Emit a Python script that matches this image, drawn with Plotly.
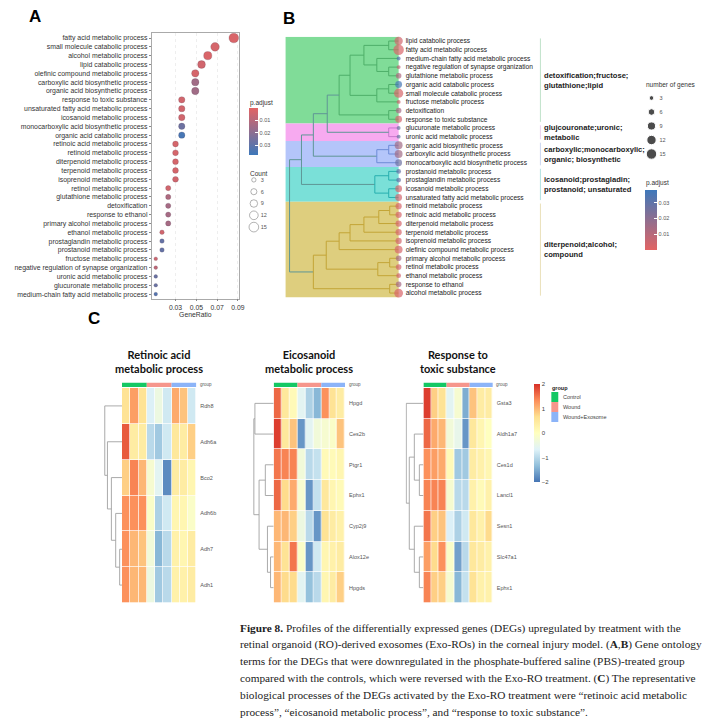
import plotly.graph_objects as go

W, H = 716, 727

# ---------------- Panel A data ----------------
a_terms = [
    "fatty acid metabolic process", "small molecule catabolic process", "alcohol metabolic process",
    "lipid catabolic process", "olefinic compound metabolic process", "carboxylic acid biosynthetic process",
    "organic acid biosynthetic process", "response to toxic substance", "unsaturated fatty acid metabolic process",
    "icosanoid metabolic process", "monocarboxylic acid biosynthetic process", "organic acid catabolic process",
    "retinoic acid metabolic process", "retinoid metabolic process", "diterpenoid metabolic process",
    "terpenoid metabolic process", "isoprenoid metabolic process", "retinol metabolic process",
    "glutathione metabolic process", "detoxification", "response to ethanol",
    "primary alcohol metabolic process", "ethanol metabolic process", "prostaglandin metabolic process",
    "prostanoid metabolic process", "fructose metabolic process", "negative regulation of synapse organization",
    "uronic acid metabolic process", "glucuronate metabolic process", "medium-chain fatty acid metabolic process"]
a_gene_ratio = [0.086, 0.068, 0.061, 0.055, 0.049, 0.049, 0.049, 0.036, 0.036, 0.036, 0.036, 0.036,
                0.030, 0.030, 0.030, 0.030, 0.030, 0.023, 0.023, 0.023, 0.023, 0.023,
                0.017, 0.017, 0.017, 0.011, 0.011, 0.011, 0.011, 0.011]
a_count = [14, 11, 10, 9, 8, 8, 8, 6, 6, 6, 6, 6, 5, 5, 5, 5, 5, 4, 4, 4, 4, 4, 3, 3, 3, 2, 2, 2, 2, 2]
a_padj = [0.002, 0.003, 0.002, 0.004, 0.003, 0.015, 0.015, 0.004, 0.004, 0.004, 0.027, 0.036,
          0.003, 0.003, 0.003, 0.003, 0.004, 0.004, 0.012, 0.014, 0.014, 0.014, 0.004, 0.029, 0.029,
          0.005, 0.008, 0.028, 0.028, 0.033]
a_xticks = [0.03, 0.05, 0.07, 0.09]
count_legend = [3, 6, 9, 12, 15]
padj_ticks = [0.01, 0.02, 0.03]

# ---------------- Panel B data ----------------
b_terms = [
    "lipid catabolic process", "fatty acid metabolic process", "medium-chain fatty acid metabolic process",
    "negative regulation of synapse organization", "glutathione metabolic process", "organic acid catabolic process",
    "small molecule catabolic process", "fructose metabolic process", "detoxification",
    "response to toxic substance", "glucuronate metabolic process", "uronic acid metabolic process",
    "organic acid biosynthetic process", "carboxylic acid biosynthetic process",
    "monocarboxylic acid biosynthetic process", "prostanoid metabolic process", "prostaglandin metabolic process",
    "icosanoid metabolic process", "unsaturated fatty acid metabolic process", "retinoid metabolic process",
    "retinoic acid metabolic process", "diterpenoid metabolic process", "terpenoid metabolic process",
    "isoprenoid metabolic process", "olefinic compound metabolic process", "primary alcohol metabolic process",
    "retinol metabolic process", "ethanol metabolic process", "response to ethanol", "alcohol metabolic process"]
b_cluster_sizes = [10, 2, 3, 4, 11]
b_cluster_labels = ["detoxification;fructose;<br>glutathione;lipid",
                    "glujcouronate;uronic;<br>metabolic",
                    "carboxylic;monocarboxylic;<br>organic; biosynthetic",
                    "icosanoid;prostagladin;<br>prostanoid; unsaturated",
                    "diterpenoid;alcohol;<br>compound"]
b_band_colors = ["rgb(128,220,152)", "rgb(247,170,240)", "rgb(180,197,250)", "rgb(122,224,216)", "rgb(222,206,126)"]
b_line_colors = ["rgb(78,175,105)", "rgb(200,120,205)", "rgb(110,140,215)", "rgb(40,175,175)", "rgb(195,165,55)"]
# linkage: (left node, right node, merge height); new nodes numbered from 30
b_links = [(0, 1, 0.10), (3, 4, 0.10), (2, 31, 0.22), (30, 32, 0.35), (5, 6, 0.10), (34, 7, 0.22),
           (33, 35, 0.49), (8, 9, 0.10), (36, 37, 0.60), (10, 11, 0.10), (38, 39, 0.72),
           (12, 13, 0.10), (41, 14, 0.22), (40, 42, 0.86), (15, 16, 0.10), (17, 18, 0.10),
           (44, 45, 0.24), (43, 46, 0.98), (19, 20, 0.09), (48, 21, 0.20), (49, 22, 0.35),
           (50, 23, 0.49), (51, 24, 0.60), (25, 26, 0.09), (53, 27, 0.21), (52, 54, 0.73),
           (28, 29, 0.09), (55, 56, 0.86), (47, 57, 1.10)]
term_count = dict(zip(a_terms, a_count))
term_padj = dict(zip(a_terms, a_padj))

# ---------------- Panel C data ----------------
groups = ["Control"] * 3 + ["Wound"] * 3 + ["Wound+Exosome"] * 3
group_colors = {"Control": "rgb(20,200,100)", "Wound": "rgb(246,150,140)", "Wound+Exosome": "rgb(140,180,248)"}

h1_title = "Retinoic acid<br>metabolic process"
h1_genes = ["Rdh8", "Adh6a", "Bco2", "Adh6b", "Adh7", "Adh1"]
h1_values = [
    [0.6, 1.2, 0.6, -0.7, -0.4, -0.8, 1.1, 0.9, -0.8],
    [1.7, 0.4, 0.4, -1.0, -1.2, -0.8, 0.5, 0.4, 0.8],
    [0.8, 1.4, 1.0, -0.2, -0.6, -1.8, 0.4, 0.4, 0.2],
    [1.3, 1.3, 1.3, -0.1, -1.1, -0.8, 0.2, 0.2, -0.1],
    [1.3, 1.0, 0.9, -0.3, -1.4, -1.0, 0.3, 0.2, 0.4],
    [1.3, 1.0, 1.0, -0.4, -1.2, -1.0, 0.3, 0.3, 0.4]]
h1_links = [(4, 5, 0.7), (3, 6, 1.9), (2, 7, 3.2), (1, 8, 4.4), (0, 9, 5.2)]

h2_title = "Eicosanoid<br>metabolic process"
h2_genes = ["Hpgd", "Ces2b", "Ptgr1", "Ephx1", "Cyp2j9", "Alox12e", "Hpgds"]
h2_values = [
    [1.6, 0.5, 0.1, -0.6, -1.1, -1.4, 1.3, 0.6, 0.4],
    [1.9, 0.5, 0.9, -1.7, -0.6, -0.3, -0.2, -0.1, 0.9],
    [1.5, 1.4, 1.4, -0.3, -1.0, -0.9, 0.1, 0.1, 0.2],
    [1.6, 0.7, 1.1, -0.2, -1.7, -0.9, 0.5, 0.2, 0.1],
    [1.0, 1.0, 0.8, -0.4, -1.0, -1.7, 0.6, 0.4, 0.3],
    [1.0, 0.6, 1.5, -0.1, -1.7, -0.8, 0.2, 0.3, 0.4],
    [1.0, 0.7, 0.7, -0.6, -1.3, -1.0, 0.2, 0.4, 0.8]]
h2_links = [(0, 1, 5.14), (2, 3, 2.29), (5, 6, 0.86), (4, 9, 1.71), (8, 10, 4.0), (7, 11, 5.43)]

h3_title = "Response to<br>toxic substance"
h3_genes = ["Gsta3", "Aldh1a7", "Ces1d", "Lancl1", "Sesn1", "Slc47a1", "Ephx1"]
h3_values = [
    [1.9, 0.8, 0.6, -0.6, -0.2, -1.5, 0.9, 0.4, 0.4],
    [1.6, 1.1, 1.0, -0.3, -0.5, -1.7, 0.5, 0.2, 0.0],
    [1.3, 1.2, 1.1, 0.1, -1.2, -1.2, 0.4, 0.3, 0.2],
    [1.4, 1.4, 1.4, -0.2, -1.0, -1.0, 0.3, 0.1, 0.3],
    [1.5, 0.8, 0.9, -0.7, -1.1, -0.8, 0.5, 0.3, 0.7],
    [1.2, 0.7, 1.3, -0.1, -1.6, -1.0, 0.5, 0.4, 0.3],
    [1.4, 0.8, 0.8, -0.2, -1.4, -0.9, 0.6, 0.3, 0.3]]
h3_links = [(2, 3, 1.18), (1, 7, 2.65), (5, 6, 1.18), (4, 9, 2.65), (8, 10, 4.12), (0, 11, 5.0)]
heat_ticks = [-2, -1, 0, 1, 2]

caption_lines = [
    "<b>Figure 8.</b> Profiles of the differentially expressed genes (DEGs) upregulated by treatment with the",
    "retinal organoid (RO)-derived exosomes (Exo-ROs) in the corneal injury model. (<b>A</b>,<b>B</b>) Gene ontology",
    "terms for the DEGs that were downregulated in the phosphate-buffered saline (PBS)-treated group",
    "compared with the controls, which were reversed with the Exo-RO treatment. (<b>C</b>) The representative",
    "biological processes of the DEGs activated by the Exo-RO treatment were \u201cretinoic acid metabolic",
    "process\u201d, \u201ceicosanoid metabolic process\u201d, and \u201cresponse to toxic substance\u201d."]


# ---------------- helpers ----------------
def dx(a, b):
    return [a / W, b / W]


def dy(top, bottom):
    return [1 - bottom / H, 1 - top / H]


def px(x):
    return x / W


def py(y):
    return 1 - y / H


def dendro(links, n):
    pos = [float(i) for i in range(n)]
    hgt = [0.0] * n
    mem = [{i} for i in range(n)]
    out = []
    for a, b, h in links:
        out.append(([hgt[a], h, h, hgt[b]], [pos[a], pos[a], pos[b], pos[b]], mem[a] | mem[b]))
        pos.append((pos[a] + pos[b]) / 2)
        hgt.append(h)
        mem.append(mem[a] | mem[b])
    return out, hgt[:n]


SANS = "Liberation Sans, Arial, sans-serif"
TXT = "#333333"
RED = "rgb(226,100,100)"
BLUE = "rgb(62,120,186)"

fig = go.Figure()
annotations = []
shapes = []

# ---------------- Panel A ----------------
fig.add_trace(go.Scatter(
    x=a_gene_ratio, y=list(range(len(a_terms))), mode="markers", cliponaxis=False,
    marker=dict(size=[2.6 * c ** 0.5 for c in a_count], color=[-p for p in a_padj],
                coloraxis="coloraxis", line=dict(width=0.4, color="rgba(80,60,80,0.5)"), opacity=1),
    xaxis="x", yaxis="y", showlegend=False, hoverinfo="skip"))

# count legend A
fig.add_trace(go.Scatter(
    x=[0] * len(count_legend), y=list(range(len(count_legend))), mode="markers", cliponaxis=False,
    marker=dict(size=[2.5 * c ** 0.5 for c in count_legend], symbol="circle-open", color="#777",
                line=dict(width=0.8)),
    xaxis="x3", yaxis="y3", showlegend=False, hoverinfo="skip"))
annotations.append(dict(text="Count", x=px(250), y=py(173), xref="paper", yref="paper", xanchor="left",
                        yanchor="middle", showarrow=False, font=dict(size=6.5, color=TXT, family=SANS)))
annotations.append(dict(text="p.adjust", x=px(250), y=py(103), xref="paper", yref="paper", xanchor="left",
                        yanchor="middle", showarrow=False, font=dict(size=6.5, color=TXT, family=SANS)))

# ---------------- Panel B ----------------
row_cluster = []
for ci, s in enumerate(b_cluster_sizes):
    row_cluster += [ci] * s
starts = []
acc = 0
for s in b_cluster_sizes:
    starts.append(acc)
    acc += s

for ci, s in enumerate(b_cluster_sizes):
    shapes.append(dict(type="rect", xref="x2 domain", yref="y2", x0=0, x1=1,
                       y0=starts[ci] - 0.5, y1=starts[ci] + s - 0.5,
                       fillcolor=b_band_colors[ci], line=dict(width=0), layer="below"))
    shapes.append(dict(type="line", xref="paper", yref="y2", x0=px(545), x1=px(545),
                       y0=starts[ci] - 0.3, y1=starts[ci] + s - 0.7,
                       line=dict(width=1, color=b_line_colors[ci]), opacity=0.35))
    annotations.append(dict(text="<b>" + b_cluster_labels[ci] + "</b>", x=px(547), xref="paper",
                            y=starts[ci] + (s - 1) / 2, yref="y2", xanchor="left", yanchor="middle",
                            align="left", showarrow=False,
                            font=dict(size=7.6, color="#222", family=SANS)))

b_segs, b_leaf_h = dendro(b_links, len(b_terms))
by_color = {}
for xs, ys, mem in b_segs:
    cl = {row_cluster[i] for i in mem}
    col = b_line_colors[cl.pop()] if len(cl) == 1 else "rgb(95,150,150)"
    bx, byy = by_color.setdefault(col, ([], []))
    bx += xs + [None]
    byy += ys + [None]
for col, (bx, byy) in by_color.items():
    fig.add_trace(go.Scatter(x=bx, y=byy, mode="lines", line=dict(color=col, width=1),
                             xaxis="x2", yaxis="y2", showlegend=False, hoverinfo="skip"))

fig.add_trace(go.Scatter(
    x=b_leaf_h, y=list(range(len(b_terms))), mode="markers", cliponaxis=False,
    marker=dict(size=[2.8 * term_count[t] ** 0.5 for t in b_terms],
                color=[term_padj[t] for t in b_terms], coloraxis="coloraxis2", line=dict(width=0)),
    xaxis="x2", yaxis="y2", showlegend=False, hoverinfo="skip"))

# number of genes legend
fig.add_trace(go.Scatter(
    x=[0] * len(count_legend), y=list(range(len(count_legend))), mode="markers", cliponaxis=False,
    marker=dict(size=[2.7 * c ** 0.5 for c in count_legend], color="black"),
    xaxis="x4", yaxis="y4", showlegend=False, hoverinfo="skip"))
annotations.append(dict(text="number of genes", x=px(649), y=py(85), xref="paper", yref="paper",
                        xanchor="left", yanchor="middle", showarrow=False,
                        font=dict(size=6.5, color=TXT, family=SANS)))
annotations.append(dict(text="p.adjust", x=px(649), y=py(183), xref="paper", yref="paper",
                        xanchor="left", yanchor="middle", showarrow=False,
                        font=dict(size=6.5, color=TXT, family=SANS)))

# ---------------- Panel C ----------------
heat_specs = [
    (h1_title, h1_genes, h1_values, h1_links, (123, 198), (105, 123), 5.4, 5, 8),
    (h2_title, h2_genes, h2_values, h2_links, (276, 348), (255, 276), 5.7, 6, 9),
    (h3_title, h3_genes, h3_values, h3_links, (427, 497), (409, 427), 5.2, 7, 10),
]
layout_axes = {}
for title, genes, vals, links, (hx0, hx1), (dx0, dx1), dmax, ax, dax in heat_specs:
    n = len(genes)
    fig.add_trace(go.Heatmap(z=vals, x=list(range(len(groups))), y=list(range(n)),
                             coloraxis="coloraxis3", xgap=0.7, ygap=0.7,
                             xaxis=f"x{ax}", yaxis=f"y{ax}", hoverinfo="skip"))
    segs, _ = dendro(links, n)
    lx, ly = [], []
    for xs, ys, _m in segs:
        lx += xs + [None]
        ly += ys + [None]
    fig.add_trace(go.Scatter(x=lx, y=ly, mode="lines", line=dict(color="#a0a0a0", width=0.9),
                             xaxis=f"x{dax}", yaxis=f"y{dax}", showlegend=False, hoverinfo="skip"))
    layout_axes[f"xaxis{ax}"] = dict(domain=dx(hx0, hx1), range=[-0.5, len(groups) - 0.5], visible=False,
                                     anchor=f"y{ax}")
    layout_axes[f"yaxis{ax}"] = dict(domain=dy(388, 603), range=[n - 0.5, -0.5], anchor=f"x{ax}",
                                     side="right", tickvals=list(range(n)), ticktext=genes, ticks="",
                                     showgrid=False, zeroline=False, showline=False, ticklabelstandoff=3,
                                     tickfont=dict(size=5.5, color="#555", family=SANS))
    layout_axes[f"xaxis{dax}"] = dict(domain=dx(dx0, dx1), range=[dmax, 0], visible=False, anchor=f"y{dax}")
    layout_axes[f"yaxis{dax}"] = dict(domain=dy(388, 603), range=[n - 0.5, -0.5], visible=False,
                                      anchor=f"x{dax}")
    # group bar
    for g in dict.fromkeys(groups):
        idx = [i for i, gg in enumerate(groups) if gg == g]
        shapes.append(dict(type="rect", xref=f"x{ax}", yref=f"y{ax} domain", x0=min(idx) - 0.5,
                           x1=max(idx) + 0.5, y0=1.005, y1=1.024, fillcolor=group_colors[g],
                           line=dict(width=0)))
    annotations.append(dict(text="group", xref=f"x{ax} domain", x=1.02, yref=f"y{ax} domain", y=1.015,
                            xanchor="left", yanchor="middle", showarrow=False,
                            font=dict(size=4.5, color="#555", family=SANS)))
    annotations.append(dict(text="<b>" + title + "</b>", xref="paper", x=px((hx0 + hx1) / 2),
                            yref="paper", y=py(361), xanchor="center", yanchor="middle", showarrow=False,
                            font=dict(size=11, color="#111", family="Lato, Liberation Sans")))

# group legend
annotations.append(dict(text="<b>group</b>", x=px(555), y=py(388), xref="paper", yref="paper",
                        xanchor="left", yanchor="middle", showarrow=False,
                        font=dict(size=5.5, color="#222", family=SANS)))
for k, g in enumerate(dict.fromkeys(groups)):
    top = 392 + 10 * k
    shapes.append(dict(type="rect", xref="paper", yref="paper", x0=px(556), x1=px(563),
                       y0=py(top + 10), y1=py(top), fillcolor=group_colors[g], line=dict(width=0)))
    annotations.append(dict(text=g, x=px(566), y=py(top + 5), xref="paper", yref="paper",
                            xanchor="left", yanchor="middle", showarrow=False,
                            font=dict(size=5.5, color="#444", family=SANS)))

# panel letters
for letter, (lx_, ly_) in {"A": (35, 16), "B": (291, 18), "C": (95, 318)}.items():
    annotations.append(dict(text="<b>" + letter + "</b>", x=px(lx_), y=py(ly_), xref="paper", yref="paper",
                            xanchor="center", yanchor="middle", showarrow=False,
                            font=dict(size=17, color="black", family=SANS)))

# caption
for i, line in enumerate(caption_lines):
    annotations.append(dict(text=line, x=px(240), y=py(628 + 16.8 * i), xref="paper", yref="paper",
                            xanchor="left", yanchor="middle", showarrow=False,
                            font=dict(size=11.3, color="#222", family="Liberation Serif, DejaVu Serif, serif")))

heat_colors = ["#4575B4", "#91BFDB", "#E0F3F8", "#FFFFBF", "#FEE090", "#FC8D59", "#D73027"]

fig.update_layout(
    width=W, height=H, margin=dict(l=0, r=0, t=0, b=0),
    paper_bgcolor="white", plot_bgcolor="white", showlegend=False,
    font=dict(family=SANS, color=TXT),
    xaxis=dict(domain=dx(153, 241), range=[0.00714, 0.091], tickvals=a_xticks,
               ticktext=[f"{v:.2f}" for v in a_xticks], ticks="outside", ticklen=2, tickcolor="#888",
               tickfont=dict(size=6.8, color=TXT, family=SANS), showline=True, mirror=True,
               linecolor="#aaaaaa", linewidth=0.8, showgrid=True, gridcolor="#eeeeee", griddash="dot",
               zeroline=False, anchor="y",
               title=dict(text="GeneRatio", font=dict(size=6.8, color=TXT, family=SANS), standoff=2)),
    yaxis=dict(domain=dy(32.7, 298.5), range=[29.5, -0.6], tickvals=list(range(len(a_terms))),
               ticktext=a_terms, ticks="outside", ticklen=2, tickcolor="#888",
               tickfont=dict(size=6.9, color=TXT, family=SANS), showline=True, mirror=True,
               linecolor="#aaaaaa", linewidth=0.8, showgrid=False, zeroline=False, anchor="x"),
    xaxis2=dict(domain=dx(288, 402), range=[1.14, 0], visible=False, anchor="y2"),
    yaxis2=dict(domain=dy(36.7, 297.4), range=[29.5, -0.5], anchor="x2", side="right",
                tickvals=list(range(len(b_terms))), ticktext=b_terms, ticks="", ticklabelstandoff=6,
                tickfont=dict(size=6.6, color="#222", family=SANS), showgrid=False, zeroline=False,
                showline=False),
    xaxis3=dict(domain=dx(252, 260), range=[-1, 1], visible=False, anchor="y3"),
    yaxis3=dict(domain=dy(174, 233), range=[4.5, -0.5], anchor="x3", side="right",
                tickvals=list(range(len(count_legend))), ticktext=[str(c) for c in count_legend],
                ticks="", ticklabelstandoff=2, showgrid=False, zeroline=False, showline=False,
                tickfont=dict(size=5.5, color="#555", family=SANS)),
    xaxis4=dict(domain=dx(652, 662), range=[-1, 1], visible=False, anchor="y4"),
    yaxis4=dict(domain=dy(91, 161), range=[4.5, -0.5], anchor="x4", side="right",
                tickvals=list(range(len(count_legend))), ticktext=[str(c) for c in count_legend],
                ticks="", ticklabelstandoff=2, showgrid=False, zeroline=False, showline=False,
                tickfont=dict(size=5.5, color="#555", family=SANS)),
    coloraxis=dict(colorscale=[[0, BLUE], [1, RED]], cmin=-0.038, cmax=0,
                   colorbar=dict(x=px(251), xanchor="left", y=py(108), yanchor="top", len=47,
                                 lenmode="pixels", thickness=9, outlinewidth=0, xpad=0, ypad=0,
                                 tickvals=[-v for v in padj_ticks], ticktext=[f"{v:.2f}" for v in padj_ticks],
                                 ticks="inside", ticklen=3, tickcolor="white",
                                 tickfont=dict(size=5.5, color="#555", family=SANS))),
    coloraxis2=dict(colorscale=[[0, RED], [1, BLUE]], cmin=0, cmax=0.038,
                    colorbar=dict(x=px(650), xanchor="left", y=py(190), yanchor="top", len=60,
                                  lenmode="pixels", thickness=12, outlinewidth=0, xpad=0, ypad=0,
                                  tickvals=padj_ticks, ticktext=[f"{v:.2f}" for v in padj_ticks],
                                  ticks="inside", ticklen=3, tickcolor="white",
                                  tickfont=dict(size=5.5, color="#555", family=SANS))),
    coloraxis3=dict(colorscale=[[i / 6, c] for i, c in enumerate(heat_colors)], cmin=-2, cmax=2,
                    colorbar=dict(x=px(539), xanchor="left", y=py(384), yanchor="top", len=98,
                                  lenmode="pixels", thickness=6, outlinewidth=0, xpad=0, ypad=0,
                                  tickvals=heat_ticks, ticktext=[str(v).replace("-", "\u2212") for v in heat_ticks],
                                  ticks="", tickfont=dict(size=6, color="#444", family=SANS))),
    annotations=annotations, shapes=shapes,
    **layout_axes)

fig.write_html("out.html", post_script="document.body.style.margin='0px';",
               config={"displayModeBar": False})
